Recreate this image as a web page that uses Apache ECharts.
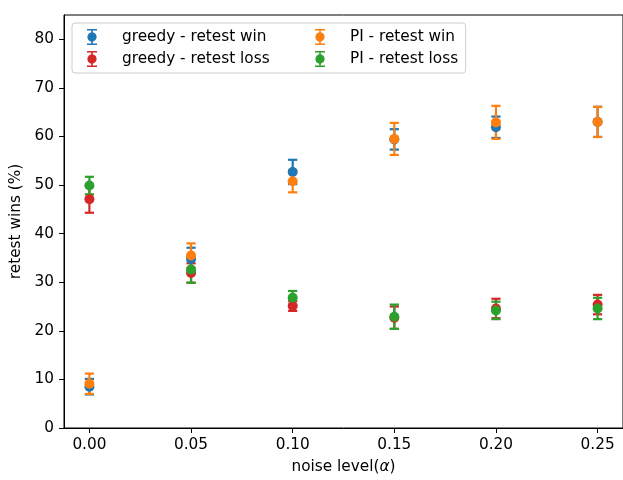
<!DOCTYPE html>
<html>
<head>
<meta charset="utf-8">
<script src="https://cdn.jsdelivr.net/npm/echarts@6/dist/echarts.min.js"></script>
<style>
  html, body { margin: 0; padding: 0; background: #fff; }
  #chart { width: 623px; height: 480px; }
</style>
</head>
<body>
<div id="chart"></div>
<script>
// data
var noise = [0, 0.05, 0.10, 0.15, 0.20, 0.25];
var xTicks = [0, 0.05, 0.10, 0.15, 0.20, 0.25];
var yTicks = [0, 10, 20, 30, 40, 50, 60, 70, 80];

var greedyWin     = [8.5, 34.8, 52.7, 59.4, 61.9, 63.0];
var greedyWinErr  = [1.6, 2.3, 2.5, 2.1, 2.2, 3.1];
var greedyLoss    = [47.1, 31.9, 25.1, 22.7, 24.6, 25.4];
var greedyLossErr = [2.8, 2.0, 1.0, 2.3, 2.0, 2.0];
var piWin         = [9.1, 35.5, 50.8, 59.5, 62.9, 63.0];
var piWinErr      = [2.1, 2.5, 2.3, 3.3, 3.4, 3.1];
var piLoss        = [49.9, 32.6, 26.8, 22.9, 24.2, 24.6];
var piLossErr     = [1.8, 2.7, 1.4, 2.5, 1.8, 2.2];

var font = 'DejaVu Sans';
var fs = 15.3;
// errorbar-like legend icon: caps, stems and a dot
var errIcon = 'path://M1,0 H11 V1.6 H6.8 V3.3 A4.8,4.8 0 0,1 6.8,12.7 V14.4 H11 V16 H1 V14.4 H5.2 V12.7 A4.8,4.8 0 0,1 5.2,3.3 V1.6 H1 Z';

function errData(means, errs) {
  return noise.map(function (x, i) { return [x, means[i] - errs[i], means[i] + errs[i]]; });
}
function ptData(means) {
  return noise.map(function (x, i) { return [x, means[i]]; });
}

function renderErr(params, api) {
  var top = api.coord([api.value(0), api.value(2)]);
  var bot = api.coord([api.value(0), api.value(1)]);
  var cap = 4.6;
  var st = { stroke: api.visual('color'), lineWidth: 2.2 };
  return {
    type: 'group',
    children: [
      { type: 'line', shape: { x1: top[0], y1: top[1], x2: bot[0], y2: bot[1] }, style: st },
      { type: 'line', shape: { x1: top[0] - cap, y1: top[1], x2: top[0] + cap, y2: top[1] }, style: st },
      { type: 'line', shape: { x1: bot[0] - cap, y1: bot[1], x2: bot[0] + cap, y2: bot[1] }, style: st }
    ]
  };
}

var groups = [
  { name: 'greedy - retest win',  color: '#1f77b4', m: greedyWin,  e: greedyWinErr },
  { name: 'greedy - retest loss', color: '#d62728', m: greedyLoss, e: greedyLossErr },
  { name: 'PI - retest win',      color: '#ff7f0e', m: piWin,      e: piWinErr },
  { name: 'PI - retest loss',     color: '#2ca02c', m: piLoss,     e: piLossErr }
];

var series = [];
groups.forEach(function (g) {
  series.push({
    name: g.name,
    type: 'custom',
    renderItem: renderErr,
    itemStyle: { color: g.color },
    encode: { x: 0, y: [1, 2] },
    data: errData(g.m, g.e),
    silent: true
  });
  series.push({
    name: g.name,
    type: 'scatter',
    symbol: 'circle',
    symbolSize: 10,
    itemStyle: { color: g.color, opacity: 1 },
    data: ptData(g.m),
    silent: true
  });
});

var legendText = { fontFamily: font, fontSize: fs, lineHeight: 16, color: '#000', padding: [0, 0, 0, 19] };

var chart = echarts.init(document.getElementById('chart'));
chart.setOption({
  animation: false,
  textStyle: { fontFamily: font },
  grid: {
    left: 64, top: 15, width: 562, height: 419,
    show: true, borderColor: '#000', borderWidth: 1, backgroundColor: 'transparent'
  },
  legend: [{
    orient: 'vertical',
    left: 72, top: 23,
    padding: [6, 196, 6, 15],
    itemGap: 6,
    itemWidth: 12, itemHeight: 16,
    selectedMode: false,
    backgroundColor: 'rgba(255,255,255,0.8)',
    borderColor: '#cccccc', borderWidth: 1, borderRadius: 3,
    textStyle: legendText,
    data: [
      { name: 'greedy - retest win', icon: errIcon },
      { name: 'greedy - retest loss', icon: errIcon }
    ]
  }, {
    orient: 'vertical',
    left: 315, top: 29,
    padding: 0,
    itemGap: 6,
    itemWidth: 12, itemHeight: 16,
    selectedMode: false,
    textStyle: legendText,
    data: [
      { name: 'PI - retest win', icon: errIcon },
      { name: 'PI - retest loss', icon: errIcon }
    ]
  }],
  xAxis: {
    type: 'value',
    min: -0.0125, max: 0.2625,
    name: 'noise level({a|α})',
    nameLocation: 'middle',
    nameGap: 32,
    nameTextStyle: {
      fontFamily: font, fontSize: fs, color: '#000',
      rich: { a: { fontFamily: font, fontSize: fs, fontStyle: 'italic', color: '#000' } }
    },
    axisLine: { onZero: false, lineStyle: { color: '#000', width: 1 } },
    axisTick: { show: true, length: 5, lineStyle: { color: '#000', width: 1 }, customValues: xTicks },
    axisLabel: {
      fontFamily: font, fontSize: fs, color: '#000', margin: 10,
      customValues: xTicks,
      formatter: function (v) { return v.toFixed(2); }
    },
    splitLine: { show: false }
  },
  yAxis: {
    type: 'value',
    min: 0, max: 85,
    name: 'retest wins (%)',
    nameLocation: 'middle',
    nameGap: 33,
    nameTextStyle: { fontFamily: font, fontSize: fs, color: '#000' },
    axisLine: { show: true, onZero: false, lineStyle: { color: '#000', width: 1 } },
    axisTick: { show: true, length: 5, lineStyle: { color: '#000', width: 1 }, customValues: yTicks },
    axisLabel: {
      fontFamily: font, fontSize: fs, color: '#000', margin: 10,
      customValues: yTicks
    },
    splitLine: { show: false }
  },
  series: series
});
</script>
</body>
</html>
